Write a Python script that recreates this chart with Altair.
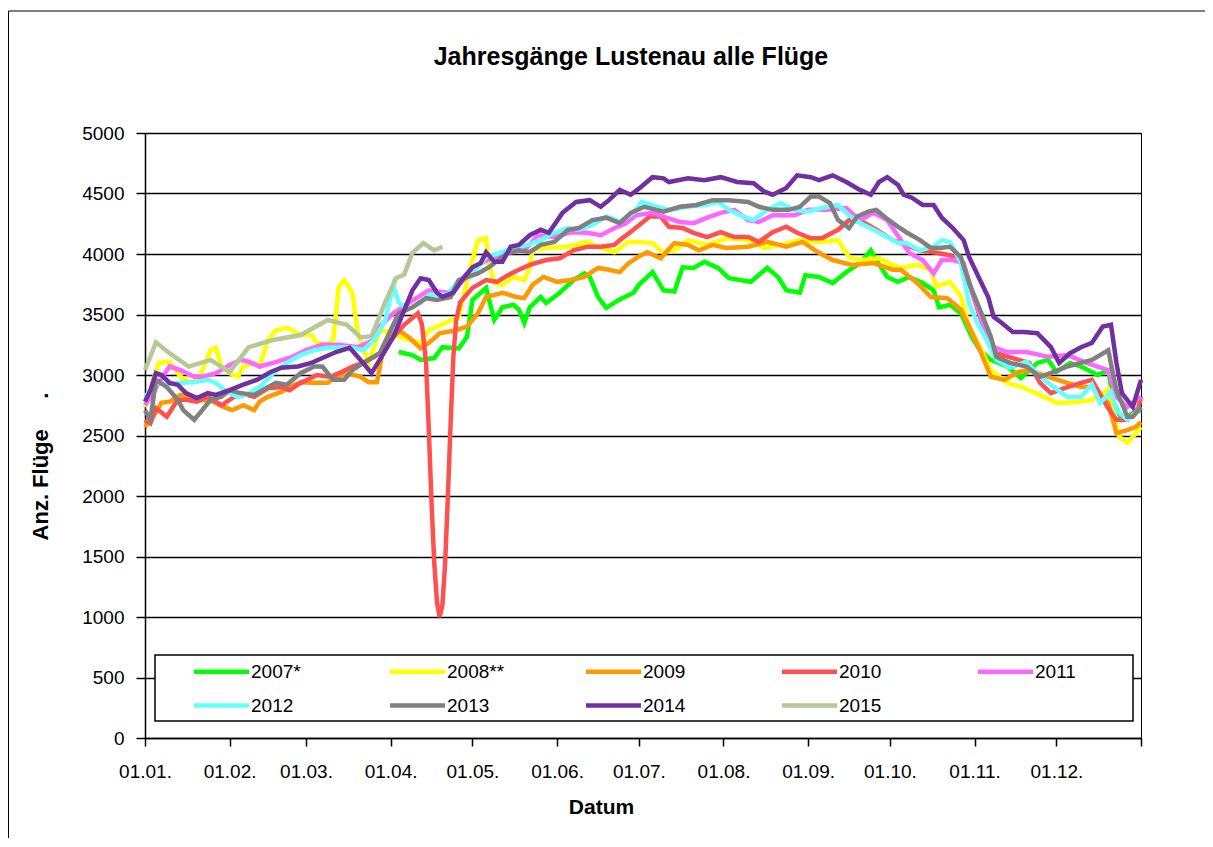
import altair as alt
import pandas as pd

FONT = "Liberation Sans"

month_days = [0, 31, 59, 90, 120, 151, 181, 212, 243, 273, 304, 334, 365]
month_labels = ["01.01.", "01.02.", "01.03.", "01.04.", "01.05.", "01.06.",
                "01.07.", "01.08.", "01.09.", "01.10.", "01.11.", "01.12.", ""]
y_ticks = [0, 500, 1000, 1500, 2000, 2500, 3000, 3500, 4000, 4500, 5000]

series_names = ["2007*", "2008**", "2009", "2010", "2011", "2012", "2013", "2014", "2015"]
series_colors = ["#00FF00", "#FFFF00", "#FF9900", "#FF5050", "#FF66FF",
                 "#66FFFF", "#808080", "#7030A0", "#B4C996"]

d2007 = [93, 98, 101, 106, 109, 115, 118, 120, 123, 125, 128, 131, 135, 137, 139, 141, 145, 147, 152, 157,
         161, 163, 166, 169, 174, 179, 181, 186, 190, 194, 197, 201, 205, 210, 214, 222, 228, 232, 235, 240,
         242, 247, 252, 257, 262, 266, 268, 272, 276, 280, 285, 289, 291, 295, 299, 303, 306, 310, 316, 321,
         327, 331, 334, 339, 344, 349, 353, 355, 358, 362, 365]
v2007 = [3190, 3165, 3125, 3140, 3230, 3220, 3315, 3620, 3680, 3720, 3455, 3560, 3580, 3540, 3430, 3560, 3645, 3595, 3680, 3785,
         3840, 3810, 3645, 3555, 3625, 3680, 3745, 3850, 3700, 3690, 3890, 3885, 3935, 3885, 3800, 3770, 3885, 3810, 3700, 3680,
         3825, 3810, 3760, 3850, 3925, 4030, 3950, 3810, 3770, 3810, 3760, 3700, 3560, 3580, 3510, 3315, 3205, 3125, 3070, 2975,
         3100, 3125, 3025, 3100, 3060, 3000, 3040, 2770, 2630, 2685, 2710]

d2008 = [0, 5, 9, 13, 17, 20, 24, 26, 28, 31, 34, 36, 40, 42, 45, 48, 52, 54, 57, 61,
         63, 67, 69, 71, 73, 76, 78, 82, 86, 90, 95, 101, 104, 110, 115, 119, 122, 125, 126, 128,
         131, 135, 139, 141, 142, 147, 155, 162, 167, 172, 177, 181, 186, 190, 194, 199, 206, 213, 221, 227,
         233, 240, 247, 254, 258, 262, 269, 274, 277, 283, 288, 290, 295, 299, 302, 306, 310, 316, 322, 328,
         334, 338, 343, 347, 353, 355, 357, 360, 362, 365]
v2008 = [2735, 3100, 3110, 2985, 2940, 2985, 3205, 3225, 3070, 3015, 2985, 3070, 3100, 3070, 3290, 3370, 3390, 3370, 3330, 3330,
         3265, 3250, 3290, 3730, 3785, 3680, 3345, 3100, 3370, 3350, 3300, 3265, 3370, 3430, 3480, 3870, 4115, 4130, 3925, 3760,
         3745, 3810, 3785, 3890, 4030, 4050, 4060, 4100, 4050, 4015, 4100, 4100, 4090, 4010, 4030, 4115, 4075, 4130, 4115, 4050,
         4075, 4115, 4100, 4115, 3975, 3950, 3965, 3910, 3885, 3910, 3870, 3730, 3770, 3650, 3400, 3230, 3040, 2935, 2895, 2835,
         2770, 2770, 2780, 2795, 2875, 2655, 2490, 2440, 2490, 2570]

d2009 = [0, 3, 6, 9, 13, 17, 20, 25, 29, 32, 36, 40, 42, 45, 50, 53, 57, 62, 67, 70,
         74, 79, 82, 85, 87, 90, 93, 97, 101, 104, 108, 114, 118, 122, 125, 131, 136, 139, 142, 146,
         151, 156, 161, 166, 170, 174, 177, 181, 184, 189, 194, 199, 203, 208, 213, 221, 228, 235, 241, 247,
         252, 259, 267, 274, 277, 283, 288, 294, 299, 302, 306, 310, 315, 320, 324, 331, 338, 343, 347, 353,
         356, 360, 363, 365]
v2009 = [2570, 2655, 2770, 2780, 2835, 2820, 2795, 2780, 2735, 2710, 2750, 2710, 2780, 2820, 2860, 2900, 2940, 2935, 2935, 2985,
         3015, 2985, 2940, 2940, 3180, 3315, 3370, 3305, 3220, 3265, 3345, 3370, 3400, 3510, 3645, 3680, 3645, 3635, 3745, 3810,
         3770, 3785, 3810, 3885, 3870, 3850, 3920, 3980, 4015, 3965, 4090, 4075, 4030, 4075, 4050, 4060, 4100, 4060, 4100, 4010,
         3950, 3910, 3925, 3870, 3870, 3760, 3645, 3635, 3540, 3400, 3205, 2985, 2960, 3025, 3040, 2985, 2935, 2900, 2900, 2770,
         2520, 2545, 2570, 2610]

d2010 = [0, 2, 4, 8, 12, 15, 19, 23, 28, 31, 35, 40, 45, 50, 53, 57, 63, 68, 72, 76,
         80, 86, 91, 95, 100, 101.5, 103, 104, 105, 106, 107, 108, 109, 110, 111, 112, 113, 114, 115.5, 120,
         125, 129, 133, 137, 141, 147, 152, 157, 162, 167, 172, 174, 179, 185, 189, 192, 197, 201, 206, 211,
         216, 221, 225, 230, 235, 239, 244, 248, 254, 258, 263, 268, 274, 277, 284, 290, 295, 299, 302, 306,
         309, 312, 318, 324, 328, 332, 338, 343, 347, 353, 356, 360, 364, 365]
v2010 = [2630, 2600, 2725, 2655, 2795, 2795, 2780, 2820, 2750, 2795, 2850, 2820, 2890, 2900, 2875, 2935, 3000, 2985, 3025, 3070,
         3100, 3180, 3315, 3415, 3510, 3420, 3100, 2550, 1950, 1450, 1120, 1000, 1100, 1450, 2000, 2600, 3150, 3450, 3600, 3720,
         3785, 3770, 3825, 3870, 3910, 3950, 3965, 4030, 4060, 4060, 4075, 4115, 4200, 4310, 4310, 4225, 4215, 4175, 4140, 4180,
         4140, 4140, 4100, 4180, 4225, 4175, 4130, 4130, 4200, 4280, 4265, 4200, 4115, 4090, 4030, 4010, 3990, 3950, 3760, 3480,
         3290, 3180, 3140, 3100, 2935, 2850, 2900, 2935, 2960, 2725, 2630, 2630, 2725, 2820]

d2011 = [0, 3, 5, 9, 13, 18, 21, 26, 31, 35, 38, 42, 47, 54, 59, 65, 71, 78, 84, 86,
         91, 97, 104, 111, 114, 118, 123, 128, 133, 139, 144, 150, 156, 162, 167, 173, 176, 180, 186, 191,
         196, 201, 206, 211, 216, 221, 225, 230, 238, 243, 250, 257, 262, 267, 272, 277, 280, 285, 289, 292,
         296, 300, 303, 307, 311, 316, 323, 331, 338, 345, 353, 356, 360, 362, 365]
v2011 = [2750, 2850, 2935, 3070, 3040, 2985, 2985, 3015, 3080, 3125, 3110, 3070, 3100, 3150, 3205, 3250, 3250, 3230, 3290, 3400,
         3510, 3600, 3700, 3680, 3730, 3810, 3925, 3975, 4010, 4030, 4155, 4140, 4180, 4175, 4155, 4225, 4250, 4320, 4340, 4300,
         4265, 4255, 4300, 4340, 4365, 4280, 4265, 4320, 4320, 4365, 4365, 4380, 4280, 4340, 4280, 4115, 4010, 3950, 3840, 3950,
         3950, 3925, 3700, 3430, 3230, 3190, 3190, 3150, 3165, 3100, 3040, 2820, 2735, 2770, 2820]

d2012 = [0, 4, 8, 13, 18, 23, 26, 30, 34, 37, 42, 47, 52, 57, 62, 67, 72, 76, 80, 84,
         88, 91, 93, 96, 101, 104, 111, 115, 120, 125, 130, 135, 140, 145, 150, 155, 159, 164, 169, 174,
         179, 182, 188, 192, 199, 205, 210, 214, 219, 223, 228, 233, 238, 243, 248, 254, 258, 262, 267, 272,
         276, 279, 284, 289, 292, 295, 299, 302, 305, 309, 312, 317, 323, 328, 333, 338, 343, 347, 350, 354,
         356, 360, 364, 365]
v2012 = [2820, 2935, 2920, 2935, 2940, 2960, 2935, 2860, 2820, 2835, 2900, 3015, 3100, 3165, 3205, 3225, 3230, 3225, 3205, 3290,
         3450, 3740, 3600, 3540, 3595, 3665, 3665, 3785, 3840, 3975, 4010, 4050, 4075, 4115, 4175, 4215, 4200, 4240, 4310, 4270,
         4340, 4430, 4390, 4365, 4390, 4405, 4430, 4365, 4310, 4280, 4365, 4420, 4365, 4350, 4380, 4405, 4320, 4255, 4200, 4140,
         4090, 4090, 4030, 4060, 4115, 4100, 3925, 3595, 3430, 3265, 3125, 3060, 3110, 2985, 2900, 2820, 2820, 2920, 2770, 2860,
         2710, 2630, 2710, 2735]

d2013 = [0, 2, 4, 8, 12, 14, 18, 21, 24, 28, 31, 35, 40, 45, 48, 52, 57, 62, 65, 69,
         73, 76, 80, 84, 86, 93, 98, 103, 107, 112, 115, 122, 126, 133, 137, 141, 145, 150, 155, 159,
         164, 169, 174, 178, 183, 190, 196, 202, 208, 214, 221, 225, 230, 236, 240, 244, 247, 251, 254, 258,
         261, 265, 268, 272, 276, 279, 284, 288, 291, 295, 299, 302, 306, 310, 312, 317, 323, 328, 333, 338,
         343, 347, 353, 356, 360, 362, 365]
v2013 = [2710, 2630, 2960, 2900, 2795, 2710, 2630, 2710, 2795, 2820, 2875, 2850, 2835, 2900, 2935, 2920, 3015, 3070, 3070, 2960,
         2960, 3040, 3100, 3150, 3180, 3510, 3560, 3635, 3620, 3645, 3785, 3840, 3890, 4010, 4030, 4015, 4075, 4100, 4200, 4215,
         4280, 4300, 4255, 4340, 4390, 4350, 4390, 4405, 4445, 4445, 4430, 4390, 4365, 4365, 4390, 4475, 4475, 4420, 4280, 4215,
         4310, 4350, 4365, 4290, 4225, 4180, 4115, 4050, 4050, 4060, 3975, 3760, 3540, 3315, 3150, 3100, 3070, 2985, 3025, 3070,
         3100, 3125, 3205, 2875, 2655, 2655, 2735]

d2014 = [0, 2, 4, 6, 9, 12, 15, 19, 23, 26, 31, 36, 41, 46, 50, 56, 61, 65, 70, 75,
         79, 83, 86, 91, 94, 98, 101, 104, 107, 109, 113, 117, 120, 123, 125, 128, 131, 134, 137, 141,
         145, 148, 153, 158, 163, 167, 170, 174, 178, 181, 186, 190, 192, 199, 205, 211, 217, 223, 227, 230,
         235, 239, 244, 247, 252, 257, 262, 266, 269, 272, 276, 278, 281, 285, 289, 292, 296, 300, 302, 306,
         309, 311, 314, 318, 322, 327, 332, 335, 339, 343, 347, 351, 354, 356, 358, 362, 365]
v2014 = [2780, 2875, 3015, 3000, 2935, 2920, 2850, 2810, 2850, 2835, 2875, 2920, 2960, 3025, 3060, 3070, 3100, 3140, 3190, 3225,
         3125, 3015, 3125, 3315, 3480, 3700, 3800, 3785, 3680, 3645, 3680, 3810, 3890, 3925, 4015, 3935, 3935, 4060, 4075, 4155,
         4200, 4175, 4340, 4430, 4445, 4390, 4445, 4530, 4490, 4540, 4635, 4625, 4595, 4625, 4610, 4635, 4595, 4585, 4515, 4490,
         4545, 4650, 4635, 4610, 4650, 4595, 4530, 4490, 4595, 4635, 4570, 4490, 4465, 4405, 4405, 4300, 4215, 4115, 3975, 3785,
         3645, 3480, 3430, 3355, 3355, 3345, 3230, 3100, 3180, 3230, 3265, 3400, 3415, 3100, 2850, 2735, 2960]

d2015 = [0, 4, 9, 16, 24, 31, 38, 47, 57, 67, 74, 79, 83, 88, 92, 95, 98, 102, 106, 109]
v2015 = [3040, 3270, 3180, 3070, 3125, 3025, 3230, 3290, 3330, 3455, 3415, 3310, 3320, 3600, 3800, 3830, 4010, 4090, 4030, 4060]

all_days = [d2007, d2008, d2009, d2010, d2011, d2012, d2013, d2014, d2015]
all_vals = [v2007, v2008, v2009, v2010, v2011, v2012, v2013, v2014, v2015]

rows = []
for name, ds, vs in zip(series_names, all_days, all_vals):
    for d, v in zip(ds, vs):
        rows.append({"series": name, "day": d, "value": v})
df = pd.DataFrame(rows)

label_expr = " : ".join(f"datum.value == {d} ? '{l}'" for d, l in zip(month_days, month_labels)) + " : ''"

NB = "\u00a0"
y_title = "Anz. Flüge" + NB * 5 + "."

lines = alt.Chart(df).mark_line().encode(
    x=alt.X("day:Q",
            scale=alt.Scale(domain=[0, 365], nice=False, zero=False),
            axis=alt.Axis(values=month_days, labelExpr=label_expr, title="Datum",
                          grid=False, tickSize=8, labelPadding=16, labelFontSize=19,
                          labelFont=FONT, titleFont=FONT, titleFontSize=21, titleFontWeight="bold",
                          titleX=456, titleY=58, labelFlush=False, labelOverlap=False)),
    y=alt.Y("value:Q",
            scale=alt.Scale(domain=[0, 5000], nice=False),
            axis=alt.Axis(values=y_ticks, format="d", title=y_title, grid=True, tickSize=9,
                          labelPadding=12, labelFontSize=19, labelFont=FONT,
                          titleFont=FONT, titleFontSize=22, titleFontWeight="bold",
                          titleX=-93, titleY=333)),
    color=alt.Color("series:N",
                    scale=alt.Scale(domain=series_names, range=series_colors),
                    legend=alt.Legend(orient="none", legendX=48, legendY=529, direction="horizontal",
                                      columns=5, title=None, symbolType="M-5,0H5", symbolSize=121,
                                      symbolStrokeWidth=6, symbolOffset=19, labelOffset=20,
                                      labelFont=FONT, labelFontSize=19, labelColor="black",
                                      columnPadding=72, rowPadding=14, gridAlign="all", padding=0)),
    strokeWidth=alt.StrokeWidth("series:N",
                                scale=alt.Scale(domain=series_names,
                                                range=[4.5, 4.5, 4.5, 4.5, 4.5, 4.5, 4.5, 4.5, 6.5]),
                                legend=None),
)

legend_box = alt.Chart(pd.DataFrame({"k": [0]})).mark_rect(
    fill="white", stroke="black", strokeWidth=1.5
).encode(x=alt.value(10), x2=alt.value(988), y=alt.value(522), y2=alt.value(588))

border_top = alt.Chart(pd.DataFrame({"k": [0]})).mark_rule(color="black", strokeWidth=1).encode(
    x=alt.value(-136.5), x2=alt.value(1100), y=alt.value(-122))
border_left = alt.Chart(pd.DataFrame({"k": [0]})).mark_rule(color="black", strokeWidth=1).encode(
    x=alt.value(-136.5), y=alt.value(-122), y2=alt.value(800))

chart = alt.layer(border_top, border_left, legend_box, lines).properties(
    width=996, height=605,
    title=alt.Title("Jahresgänge Lustenau alle Flüge", font=FONT, fontSize=25, fontWeight="bold",
                    anchor="middle", dx=-12, offset=-59, color="black"),
    autosize=alt.AutoSizeParams(type="none"),
    padding={"left": 137, "top": 125, "right": 64, "bottom": 100},
).configure_view(stroke="black", strokeWidth=1).configure_axis(
    labelColor="black", tickColor="black", domainColor="black", gridColor="black",
    titleColor="black", gridWidth=1.5, domainWidth=1.5, tickWidth=1.5
)

chart.save("out.html", embed_options={"renderer": "svg", "actions": False})
